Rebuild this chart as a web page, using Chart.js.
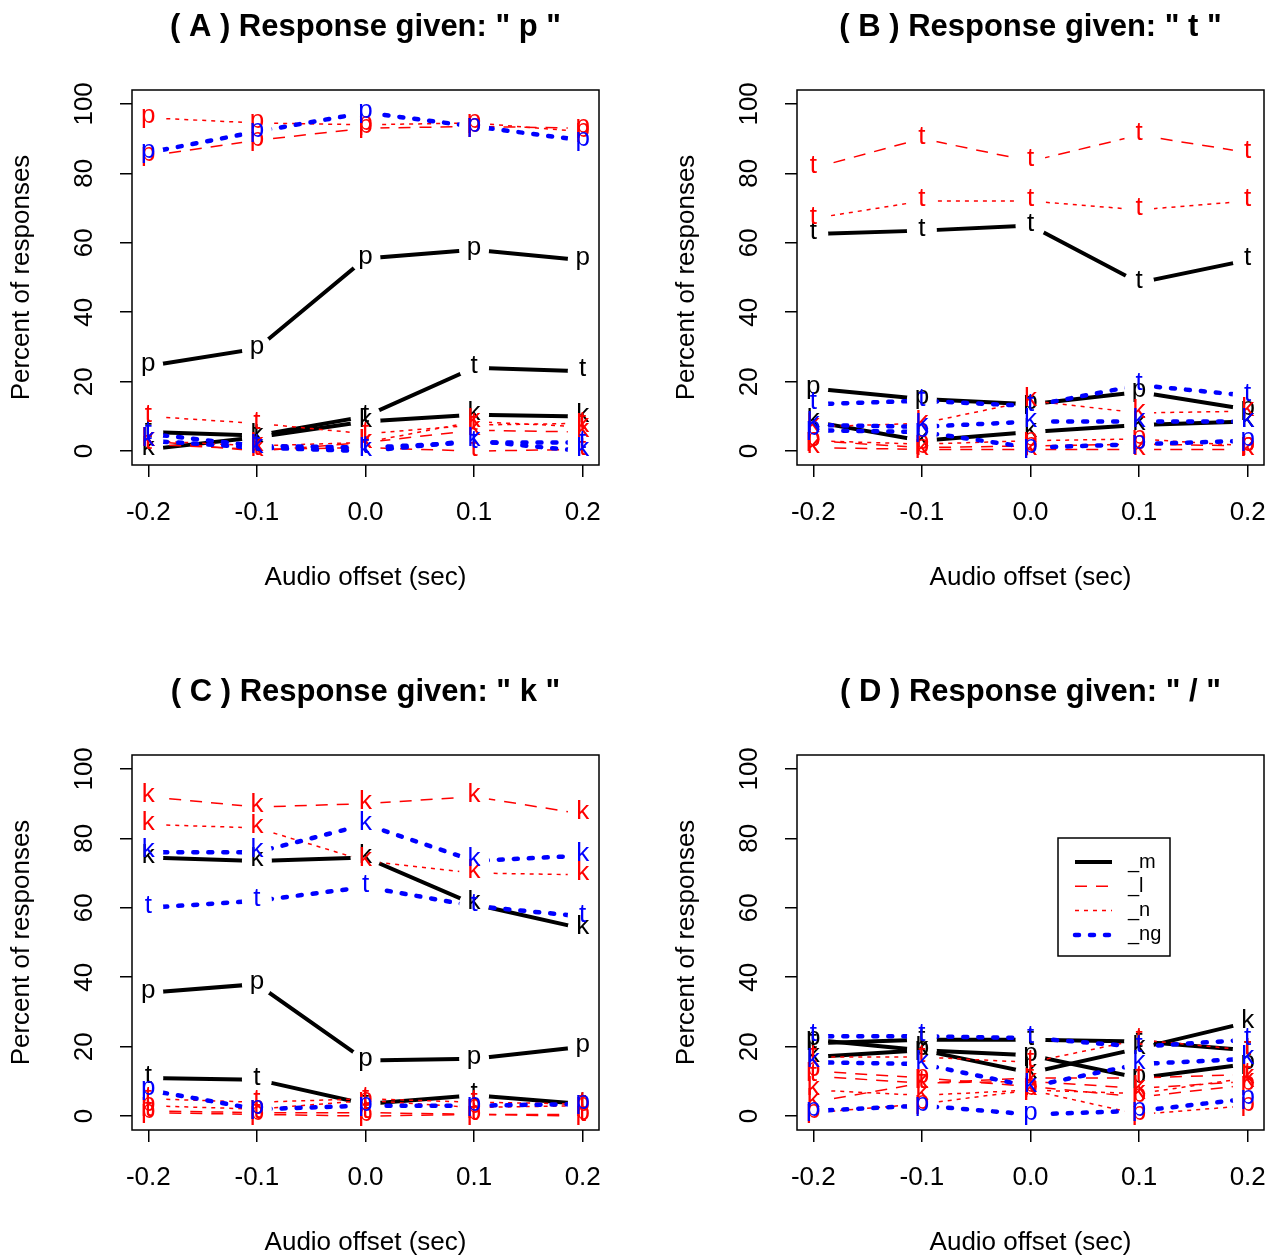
<!DOCTYPE html>
<html>
<head>
<meta charset="utf-8">
<script src="https://cdn.jsdelivr.net/npm/chart.js@4.4.1/dist/chart.umd.min.js"></script>
<style>
  html, body { margin: 0; padding: 0; background: #fff; overflow: hidden; width: 1267px; height: 1255px; }
  canvas { position: absolute; }
</style>
</head>
<body>
<canvas id="chart_a" width="633" height="627" style="left:0px;top:0px"></canvas>
<canvas id="chart_b" width="633" height="627" style="left:665px;top:0px"></canvas>
<canvas id="chart_c" width="633" height="627" style="left:0px;top:665px"></canvas>
<canvas id="chart_d" width="633" height="627" style="left:665px;top:665px"></canvas>
<script>
const FONT = '"Liberation Sans", Arial, Helvetica, sans-serif';

const offsets = [-0.2, -0.1, 0.0, 0.1, 0.2];
const yTicks = [0, 20, 40, 60, 80, 100];
const stimuli = ["p", "t", "k"];
const contexts = ["_m", "_l", "_n", "_ng"];
const ctxColors = ["#000000", "#ff0000", "#ff0000", "#0000ff"];
const ctxWidths = [4, 1.5, 1.5, 4.5];
const ctxDash = [[], [12, 9], [4, 5], [4, 11]];

// rows: stimulus p, t, k ; columns: audio offset
// ( A ) response "p"
const a_m = [[24.5, 29.5, 55.5, 58, 55], [5.5, 4.5, 10, 24, 23], [0.5, 4, 8.5, 10.5, 10]];
const a_l = [[85, 89.5, 93, 93.5, 93], [2, 0.5, 1, 0, 0.5], [3, 0, 2.5, 6, 5.5]];
const a_n = [[96, 94.5, 94, 94.5, 92], [10, 8, 5, 7.5, 8], [3, 1.5, 2.5, 8.5, 7]];
const a_ng = [[86, 92, 97.5, 93.5, 89.5], [5, 1.5, 1, 2.5, 2.5], [3, 1, 0, 3, 0]];
// ( B ) response "t"
const b_m = [[18, 15, 13.5, 17, 12], [62.5, 63.5, 65, 48.5, 55], [8.5, 3, 5.5, 7.5, 8.5]];
const b_l = [[3, 1, 1.5, 2, 1.5], [81.5, 90, 83.5, 91, 86], [1, 0.5, 0.5, 0.5, 0.5]];
const b_n = [[3, 2, 3, 3.5, 1.5], [67, 72, 72, 69.5, 72], [7, 8, 14.5, 11, 11.5]];
const b_ng = [[6, 5.5, 1, 2, 3], [13.5, 14.5, 13, 19, 16], [7.5, 7, 8.5, 8.5, 8.5]];
// ( C ) response "k"
const c_m = [[35.5, 38, 16, 16.5, 20], [11, 10.5, 3.5, 6, 3.5], [74.5, 73.5, 74.5, 61, 54]];
const c_l = [[1, 0.5, 0, 0.5, 0.5], [1.5, 1, 1, 0.5, 0], [92, 89, 90, 92, 87]];
const c_n = [[3, 2, 4.5, 2.5, 3], [5, 4, 5, 4, 3.5], [84, 83, 73.5, 70, 69.5]];
const c_ng = [[7.5, 2, 3, 3, 3.5], [60, 62, 66, 60.5, 57.5], [76, 76, 84, 73.5, 75]];
// ( D ) response "/"
const d_m = [[22, 19, 17.5, 11, 15], [21, 22, 22, 21.5, 19], [17, 19, 12.5, 19.5, 27]];
const d_l = [[13, 11, 8.5, 5.5, 9], [11.5, 9.5, 11, 11, 12], [4, 9.5, 10, 8, 10]];
const d_n = [[1, 3.5, 7.5, 0.5, 3], [17, 17, 15.5, 22, 19], [7.5, 6, 7.5, 6.5, 11]];
const d_ng = [[1.5, 3, 0.5, 1.5, 5], [23, 23, 22.5, 20, 22], [15.5, 15, 8.5, 15, 16.5]];

const panels = [
  { id: "chart_a", title: '( A ) Response given: " p "', rows: [a_m, a_l, a_n, a_ng], legend: false },
  { id: "chart_b", title: '( B ) Response given: " t "', rows: [b_m, b_l, b_n, b_ng], legend: false },
  { id: "chart_c", title: '( C ) Response given: " k "', rows: [c_m, c_l, c_n, c_ng], legend: false },
  { id: "chart_d", title: '( D ) Response given: " / "', rows: [d_m, d_l, d_n, d_ng], legend: true },
];

const GAP = 15;

// lines with gaps round their own letters (like R type="b"), then the letters
const letterPlugin = {
  id: "letters",
  beforeDatasetDraw(chart, args) {
    const ctx = chart.ctx;
    ctx.save();
    ctx.beginPath();
    ctx.rect(0, 0, chart.width, chart.height);
    args.meta.data.forEach((pt) => {
      ctx.moveTo(pt.x + GAP, pt.y);
      ctx.arc(pt.x, pt.y, GAP, 0, Math.PI * 2);
    });
    ctx.clip("evenodd");
  },
  afterDatasetDraw(chart, args) {
    const ctx = chart.ctx;
    ctx.restore();
    const ds = chart.data.datasets[args.index];
    ctx.save();
    ctx.fillStyle = ds.borderColor;
    ctx.font = "26px " + FONT;
    ctx.textAlign = "center";
    ctx.textBaseline = "middle";
    args.meta.data.forEach((pt) => {
      ctx.fillText(ds.stim, pt.x, pt.y - 2);
    });
    ctx.restore();
  },
};

const decoPlugin = {
  id: "deco",
  afterDraw(chart, args, opts) {
    const ctx = chart.ctx;
    const area = chart.chartArea;
    ctx.save();
    // box
    ctx.strokeStyle = "#000";
    ctx.lineWidth = 1.5;
    ctx.strokeRect(area.left, area.top, area.right - area.left, area.bottom - area.top);
    // y tick labels, turned like R
    const ys = chart.scales.y;
    ctx.fillStyle = "#000";
    ctx.font = "26px " + FONT;
    ctx.textAlign = "center";
    ctx.textBaseline = "middle";
    yTicks.forEach((v) => {
      ctx.save();
      ctx.translate(area.left - 47, ys.getPixelForValue(v));
      ctx.rotate(-Math.PI / 2);
      ctx.fillText(String(v), 0, 0);
      ctx.restore();
    });
    // title
    ctx.font = "bold 31px " + FONT;
    ctx.fillText(opts.title, (area.left + area.right) / 2, 27);
    // legend
    if (opts.legend) {
      const lx = area.left + 261, ly = area.top + 83;
      ctx.lineWidth = 1.5;
      ctx.strokeRect(lx, ly, 112, 118);
      ctx.font = "20px " + FONT;
      ctx.textAlign = "left";
      contexts.forEach((name, i) => {
        const y = ly + 24 + i * 24.3;
        ctx.beginPath();
        ctx.strokeStyle = ctxColors[i];
        ctx.lineWidth = ctxWidths[i];
        ctx.lineCap = i === 3 ? "round" : "butt";
        ctx.setLineDash(ctxDash[i]);
        ctx.moveTo(lx + 17, y);
        ctx.lineTo(lx + 54, y);
        ctx.stroke();
        ctx.setLineDash([]);
        ctx.fillText(name, lx + 70, y);
      });
    }
    ctx.restore();
  },
};

panels.forEach((panel) => {
  const datasets = [];
  panel.rows.forEach((rows, ci) => {
    rows.forEach((vals, si) => {
      datasets.push({
        label: contexts[ci] + " " + stimuli[si],
        stim: stimuli[si],
        data: offsets.map((x, i) => ({ x: x, y: vals[i] })),
        borderColor: ctxColors[ci],
        borderWidth: ctxWidths[ci],
        borderDash: ctxDash[ci],
        borderCapStyle: ci === 3 ? "round" : "butt",
        pointRadius: 0,
        tension: 0,
        fill: false,
        order: 100 - datasets.length,
      });
    });
  });

  new Chart(document.getElementById(panel.id), {
    type: "line",
    data: { datasets: datasets },
    plugins: [letterPlugin, decoPlugin],
    options: {
      responsive: false,
      animation: false,
      layout: { padding: { top: 90, right: 34, left: 0, bottom: 0 } },
      plugins: {
        legend: { display: false },
        title: { display: false },
        tooltip: { enabled: false },
        deco: { title: panel.title, legend: panel.legend },
      },
      scales: {
        x: {
          type: "linear",
          min: -0.215,
          max: 0.215,
          afterBuildTicks: (s) => { s.ticks = offsets.map((v) => ({ value: v })); },
          afterFit: (s) => { s.height = 162; },
          grid: { drawOnChartArea: false, drawTicks: true, tickLength: 12, color: "#000", lineWidth: 1.5 },
          border: { display: false },
          ticks: {
            color: "#000",
            font: { size: 26, family: FONT },
            padding: 20,
            maxRotation: 0,
            callback: (v) => Number(v).toFixed(1),
          },
          title: {
            display: true,
            text: "Audio offset (sec)",
            color: "#000",
            font: { size: 26, family: FONT },
            padding: { top: 0, bottom: 34 },
          },
        },
        y: {
          min: -4,
          max: 104,
          afterBuildTicks: (s) => { s.ticks = yTicks.map((v) => ({ value: v })); },
          afterFit: (s) => { s.width = 132; },
          grid: { drawOnChartArea: false, drawTicks: true, tickLength: 12, color: "#000", lineWidth: 1.5 },
          border: { display: false },
          ticks: { display: false },
          title: {
            display: true,
            text: "Percent of responses",
            color: "#000",
            font: { size: 26, family: FONT },
            padding: { top: 6, bottom: 0 },
          },
        },
      },
    },
  });
});
</script>
</body>
</html>
